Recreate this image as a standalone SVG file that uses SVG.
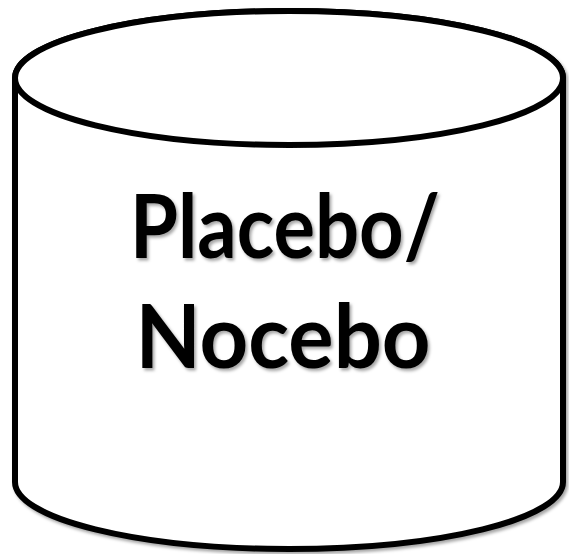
<svg xmlns="http://www.w3.org/2000/svg" width="569" height="554" viewBox="0 0 569 554">
<defs>
<filter id="sh" x="-10%" y="-10%" width="120%" height="120%">
<feDropShadow dx="2" dy="2.5" stdDeviation="1.5" flood-color="#000" flood-opacity="0.35"/>
</filter>
<style>
.cyl{fill:#fff;stroke:#000;stroke-width:6}
.lbl{font-family:Lato,"Open Sans","Liberation Sans",sans-serif;font-weight:bold;font-size:88px;fill:#000;text-anchor:middle}
</style>
</defs>
<rect width="569" height="554" fill="#fff"/>
<g id="cylinder" filter="url(#sh)">
<path class="cyl" d="M15,78 L15,482 A274,67 0 0 0 563,482 L563,78 A274,67 0 0 0 15,78 Z"/>
<ellipse class="cyl" cx="289" cy="78" rx="274" ry="67" fill="none"/>
</g>
<g id="label" filter="url(#sh)">
<text class="lbl" x="285" y="258" textLength="310" lengthAdjust="spacingAndGlyphs">Placebo/</text>
<text class="lbl" x="283" y="368" textLength="295" lengthAdjust="spacingAndGlyphs">Nocebo</text>
</g>
</svg>
